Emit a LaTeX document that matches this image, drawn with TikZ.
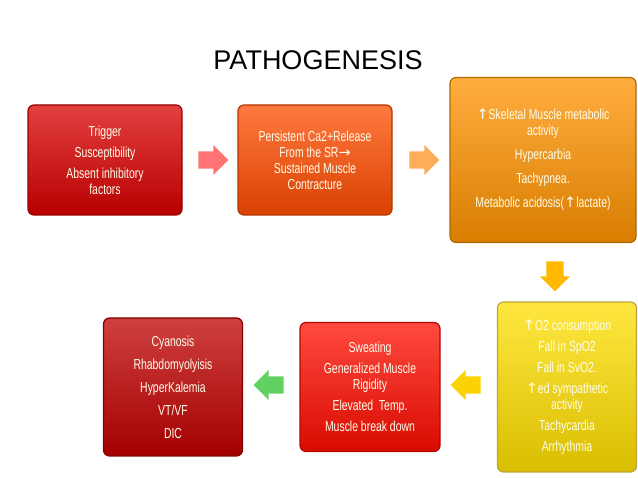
\documentclass[tikz,border=0pt]{standalone}
\usepackage{fontspec}
\setmainfont{Liberation Sans}
\newfontfamily\narrowfont[FakeStretch=0.72]{Liberation Sans}
\newfontfamily\symfont{DejaVu Sans}
\usetikzlibrary{shapes.arrows, positioning}
\newcommand{\upar}{{\symfont\char"2191}}
\newcommand{\rtar}{{\symfont\char"2192}}
\begin{document}
\begin{tikzpicture}[x=1pt, y=-1pt,
    every node/.style={font=\narrowfont\fontsize{14.5}{16}\selectfont, text=white!92!yellow, align=center},
    stagebox/.style={draw=#1!70!black, line width=1.2pt, rounded corners=6pt, top color=#1!75!white, bottom color=#1!85!black, inner sep=3pt},
    stepar/.style={single arrow, draw=none, fill=#1, minimum height=30pt, minimum width=30pt, single arrow head extend=6pt, inner sep=8pt}
  ]
  \useasboundingbox (0,0) rectangle (638,478);
  \fill[white] (0,0) rectangle (638,478);
  % title
  \node[text=black, font=\fontsize{27}{30}\selectfont] (title) at (318,60) {PATHOGENESIS};
  % stages
  \node[stagebox=red!85!black, minimum width=154pt, minimum height=110pt] (trigger) at (105,160)
    {Trigger\\[5pt] Susceptibility\\[5pt] Absent inhibitory\\factors};
  \node[stagebox=orange!60!red, minimum width=154pt, minimum height=110pt] (release) at (315,160)
    {Persistent Ca2+Release\\From the SR\rtar\\Sustained Muscle\\Contracture};
  \node[stagebox=orange!85!yellow, minimum width=186pt, minimum height=165pt] (metab) at (543,160)
    {\upar Skeletal Muscle metabolic\\activity\\[8pt] Hypercarbia\\[8pt] Tachypnea.\\[8pt] Metabolic acidosis(\upar lactate)};
  \node[stagebox=yellow!75!orange, minimum width=139pt, minimum height=170pt] (oxygen) at (567,387)
    {\upar O2 consumption\\[5pt] Fall in SpO2\\[5pt] Fall in SvO2.\\[5pt] \upar ed sympathetic\\activity\\[5pt] Tachycardia\\[5pt] Arrhythmia};
  \node[stagebox=red!90!orange, minimum width=140pt, minimum height=129pt] (sweat) at (370,387)
    {Sweating\\[5pt] Generalized Muscle\\Rigidity\\[5pt] Elevated\ \ Temp.\\[5pt] Muscle break down};
  \node[stagebox=red!75!black, minimum width=139pt, minimum height=138pt] (cyan) at (173,387)
    {Cyanosis\\[7pt] Rhabdomyolyisis\\[7pt] HyperKalemia\\[7pt] VT/VF\\[7pt] DIC};
  % arrows between stages
  \node[stepar=red!55!white] (a1) at (209,160) {};
  \node[stepar=orange!65!white] (a2) at (420,160) {};
  \node[stepar=orange!55!yellow, rotate=-90] (a3) at (555,272) {};
  \node[stepar=yellow!70!orange, rotate=180] (a4) at (470,385) {};
  \node[stepar=green!55!gray!80, rotate=180] (a5) at (273,385) {};
\end{tikzpicture}
\end{document}
